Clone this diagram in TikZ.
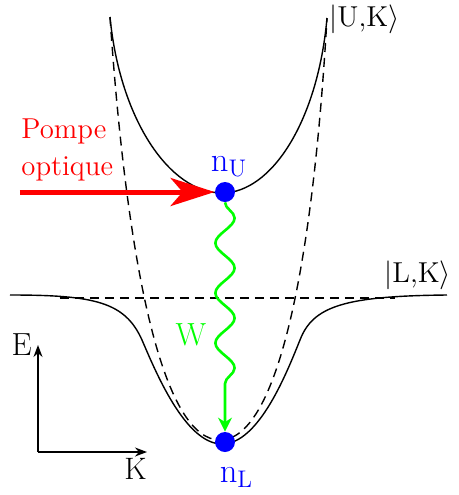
\documentclass[tikz,border=0pt]{standalone}
\usetikzlibrary{arrows.meta, positioning, decorations.pathmorphing}

\begin{document}
\begin{tikzpicture}[
    x=0.5pt, y=-0.5pt,
    branch/.style={line width=0.7pt},
    bare/.style={line width=0.7pt, dash pattern=on 4.5pt off 3pt},
    pop/.style={circle, fill=blue, minimum size=10pt, inner sep=0pt},
    lbl/.style={inner sep=0pt},
    pump/.style={red, line width=2.5pt, -{Stealth[length=22pt, width=14pt, inset=6pt]}},
    relax/.style={green, line width=1.3pt, decorate,
        decoration={snake, amplitude=4.8pt, segment length=25pt, post length=17pt},
        -{Stealth[length=7pt, width=7pt]}},
    axis/.style={line width=0.7pt, -{Stealth[length=6pt, width=4.5pt]}}
]
    \useasboundingbox (0,0) rectangle (459,495);

    % bare modes: exciton and photon
    \draw[bare] (60,298) -- (395,298);
    \draw[bare] (110,17) .. controls (128,280) and (165,440) .. (220,440)
        .. controls (275,440) and (312,280) .. (327,18);

    % polariton branches
    \draw[branch] (110,17) .. controls (120,120) and (170,193) .. (222,193)
        .. controls (272,193) and (318,120) .. (327,18);
    \draw[branch] (10,295) .. controls (95,295) and (125,302) .. (142,340)
        .. controls (155,370) and (185,444) .. (222,444)
        .. controls (259,444) and (287,372) .. (300,340)
        .. controls (313,306) and (345,296) .. (447,295);

    \node[lbl, anchor=base west] (ku) at (329,26) {\Large $|$U,K$\rangle$};
    \node[lbl, anchor=base west] (kl) at (384,282) {\Large $|$L,K$\rangle$};

    % populations
    \node[pop] (up) at (225,192) {};
    \node[pop] (low) at (225,442) {};
    \node[lbl, blue, above=2.5pt of up, xshift=2pt] (nu) {\fontsize{18}{20}\selectfont $\mathrm{n_U}$};
    \node[lbl, blue, below=7.5pt of low, xshift=5.75pt] (nl) {\fontsize{18}{20}\selectfont $\mathrm{n_L}$};

    % pumping and relaxation
    \node[lbl, red, anchor=base west] (pompe) at (21,138) {\Large Pompe};
    \node[lbl, red, anchor=base west] (optique) at (21,175) {\Large optique};
    \coordinate (src) at (20,192);
    \draw[pump] (src) -- (up);
    \draw[relax] (up) -- (low);
    \node[lbl, green] (w) at (191,335) {\fontsize{16}{18}\selectfont W};

    % axes
    \coordinate (o) at (38,452);
    \coordinate (ey) at (38,345);
    \coordinate (kx) at (147,452);
    \draw[axis] (o) -- (ey);
    \draw[axis] (o) -- (kx);
    \node[lbl, left=3pt of ey] (e) {\fontsize{16}{18}\selectfont E};
    \node[lbl, below left=3pt and 0pt of kx] (k) {\fontsize{15.5}{17}\selectfont K};
\end{tikzpicture}
\end{document}
